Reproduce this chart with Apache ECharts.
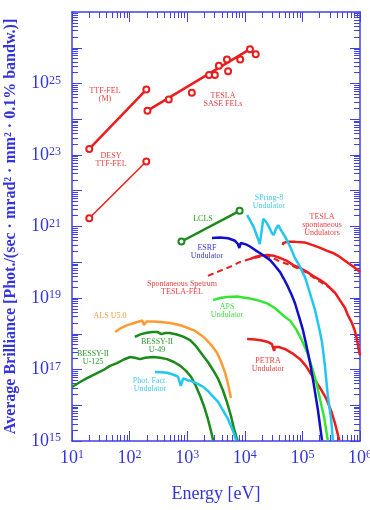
<!DOCTYPE html>
<html><head><meta charset="utf-8">
<script src="https://cdn.jsdelivr.net/npm/echarts@6/dist/echarts.min.js"></script>
<style>html,body{margin:0;padding:0;background:#fff}#c{width:370px;height:510px}</style>
</head><body><div id="c"></div>
<script>
// Values, stored as [log10(energy / eV), log10(average brilliance)]
const ttfFelM = [[1.30,23.17],[2.29,24.83]];
const desyTtfFel = [[1.30,21.23],[2.29,22.82]];
const teslaSaseFit = [[2.31,24.24],[4.09,25.96]];
const teslaSasePoints = [[2.31,24.24],[2.68,24.55],[3.08,24.74],[3.38,25.24],[3.48,25.24],[3.55,25.50],[3.69,25.67],[3.71,25.34],[3.92,25.67],[4.09,25.96],[4.19,25.82]];
const lcls = [[2.90,20.58],[3.91,21.44]];
const spring8 = [[4.04,21.32],[4.09,21.18],[4.16,20.96],[4.21,20.74],[4.26,20.51],[4.29,20.85],[4.32,21.21],[4.37,21.13],[4.42,20.99],[4.47,20.82],[4.50,20.76],[4.54,20.93],[4.58,21.04],[4.63,20.90],[4.70,20.71],[4.79,20.43],[4.87,20.12],[4.96,19.87],[5.05,19.56],[5.13,19.14],[5.22,18.66],[5.29,18.16],[5.34,17.77],[5.39,17.12],[5.44,16.28],[5.50,15.58],[5.53,15.02]];
const esrf = [[3.43,20.68],[3.57,20.69],[3.71,20.67],[3.83,20.60],[3.88,20.51],[3.905,20.40],[3.93,20.54],[4.02,20.50],[4.09,20.44],[4.18,20.34],[4.26,20.26],[4.35,20.16],[4.44,20.06],[4.52,19.91],[4.61,19.73],[4.68,19.53],[4.75,19.31],[4.82,19.06],[4.87,18.86],[4.96,18.38],[5.01,18.10],[5.06,17.74],[5.13,17.21],[5.20,16.56],[5.27,15.86],[5.34,15.02]];
const spontTeslaFel = [[3.36,19.62],[3.57,19.76],[3.74,19.87],[3.92,20.01],[4.09,20.09],[4.26,20.15],[4.39,20.18],[4.52,20.09],[4.63,20.01],[4.79,19.92],[4.91,19.84],[5.05,19.73],[5.18,19.59],[5.34,19.42],[5.48,19.28]];
const teslaSpontLower = [[4.09,20.09],[4.18,20.15],[4.28,20.19],[4.39,20.20],[4.51,20.18],[4.61,20.12],[4.73,20.04],[4.84,19.92],[4.96,19.84],[5.08,19.73],[5.18,19.62],[5.31,19.50],[5.41,19.39],[5.48,19.28],[5.57,19.14],[5.65,18.94],[5.74,18.72],[5.79,18.52],[5.86,18.30],[5.91,18.08],[5.95,17.82],[5.98,17.54],[6.0,17.40]];
const teslaSpontUpper = [[4.66,20.48],[4.67,20.54],[4.73,20.57],[4.87,20.57],[5.05,20.55],[5.18,20.48],[5.31,20.40],[5.43,20.32],[5.53,20.26],[5.65,20.15],[5.77,20.01],[5.88,19.88],[6.0,19.73]];
const aps = [[3.45,18.94],[3.57,19.00],[3.69,19.03],[3.87,19.04],[4.00,19.01],[4.13,18.97],[4.26,18.92],[4.39,18.85],[4.52,18.72],[4.66,18.52],[4.79,18.36],[4.89,18.13],[4.99,17.82],[5.08,17.49],[5.17,17.04],[5.24,16.65],[5.31,16.14],[5.38,15.64],[5.44,15.02]];
const petra = [[4.04,17.85],[4.18,17.84],[4.30,17.81],[4.40,17.77],[4.47,17.71],[4.51,17.52],[4.52,17.63],[4.59,17.63],[4.70,17.57],[4.82,17.46],[4.96,17.29],[5.06,17.10],[5.15,16.87],[5.24,16.65],[5.32,16.45],[5.41,16.20],[5.50,15.84],[5.57,15.47],[5.64,15.02]];
const alsU5 = [[1.75,18.05],[1.85,18.16],[1.96,18.24],[2.08,18.30],[2.22,18.37],[2.25,18.24],[2.29,18.34],[2.41,18.34],[2.53,18.33],[2.70,18.30],[2.88,18.24],[3.01,18.16],[3.14,18.08],[3.26,17.94],[3.34,17.82],[3.43,17.66],[3.52,17.46],[3.59,17.21],[3.66,16.90],[3.71,16.59],[3.76,16.20]];
const bessyU49 = [[2.09,17.91],[2.20,17.99],[2.30,18.03],[2.39,18.05],[2.48,18.05],[2.55,17.99],[2.62,18.02],[2.70,18.02],[2.82,17.98],[2.93,17.92],[3.05,17.82],[3.15,17.66],[3.27,17.40],[3.36,17.21],[3.45,16.98],[3.54,16.73],[3.62,16.42],[3.69,16.09],[3.76,15.70],[3.81,15.36],[3.87,15.02]];
const bessyU125 = [[1.00,16.51],[1.14,16.65],[1.26,16.76],[1.40,16.87],[1.54,16.98],[1.66,17.10],[1.78,17.18],[1.90,17.28],[2.01,17.35],[2.09,17.33],[2.18,17.29],[2.27,17.33],[2.41,17.35],[2.53,17.33],[2.65,17.29],[2.77,17.21],[2.88,17.10],[2.98,16.96],[3.07,16.79],[3.15,16.54],[3.22,16.28],[3.29,15.98],[3.36,15.61],[3.41,15.30],[3.45,15.02]];
const photFact = [[2.44,16.93],[2.55,16.92],[2.65,16.91],[2.75,16.86],[2.84,16.80],[2.89,16.54],[2.93,16.75],[3.01,16.70],[3.10,16.66],[3.19,16.59],[3.27,16.52],[3.36,16.40],[3.45,16.24],[3.54,16.09],[3.62,15.86],[3.69,15.67],[3.76,15.42],[3.81,15.22],[3.85,15.02]];

// Axis ranges and tick labels
const xDecades = [1,2,3,4,5,6];           // 10^1 .. 10^6 eV
const yDecades = [15,16,17,18,19,20,21,22,23,24,25,26,27];
const yLabelDecades = [15,17,19,21,23,25,27];

const pow10 = v => Math.pow(10, v);
const toVal = arr => arr.map(p => [pow10(p[0]), pow10(p[1])]);
const majorOf = ds => ds.map(pow10);
const minorOf = ds => { const out=[]; ds.slice(0,-1).forEach(d => { for (let m=2;m<=9;m++) out.push(m*pow10(d)); }); return out; };

const FONT = '"Liberation Serif", "DejaVu Serif", serif';
const AX = '#4040e6';
const LBL = '#3434dc';
const RED = '#ec1c1c', DKGREEN = '#1a8a1a', LTGREEN = '#33e633', ORANGE = '#ff9a33', CYAN = '#22c6ee', BLUE = '#1010c8';

const richLab = {
  b: {fontSize: 18, fontFamily: FONT, color: LBL, verticalAlign: 'bottom', lineHeight: 18},
  s: {fontSize: 12, fontFamily: FONT, color: LBL, verticalAlign: 'top', lineHeight: 12, padding: [0,0,10,0]}
};
const expFmt = v => '{b|10}{s|' + Math.round(Math.log10(v)) + '}';

function xAxisDef(pos, ticks, len, main) {
  return {
    type: 'log', logBase: 10, min: 10, max: 1e6, position: pos,
    axisLine: {show: main, lineStyle: {color: AX, width: 1.5}},
    axisTick: {show: true, inside: true, length: len, customValues: ticks, lineStyle: {color: AX, width: 1}},
    axisLabel: pos === 'bottom' && main ? {show: true, customValues: majorOf(xDecades), formatter: expFmt, rich: richLab, margin: 8} : {show: false},
    splitLine: {show: false}, minorTick: {show: false}, minorSplitLine: {show: false},
    name: pos === 'bottom' && main ? 'Energy [eV]' : '',
    nameLocation: 'middle', nameGap: 44,
    nameTextStyle: {fontSize: 18, fontFamily: FONT, color: LBL}
  };
}
function yAxisDef(pos, ticks, len, main) {
  return {
    type: 'log', logBase: 10, min: 1e15, max: 1e27, position: pos,
    axisLine: {show: main, lineStyle: {color: AX, width: 1.5}},
    axisTick: {show: true, inside: true, length: len, customValues: ticks, lineStyle: {color: AX, width: 1}},
    axisLabel: pos === 'left' && main ? {show: true, customValues: majorOf(yLabelDecades), formatter: expFmt, rich: richLab, margin: 11} : {show: false},
    splitLine: {show: false}, minorTick: {show: false}, minorSplitLine: {show: false},
    name: pos === 'left' && main ? 'Average Brilliance [Phot./(sec · mrad² · mm² · 0.1% bandw.)]' : '',
    nameLocation: 'middle', nameGap: 53, nameRotate: 90,
    nameTextStyle: {fontSize: 16, fontWeight: 'bold', fontFamily: FONT, color: LBL}
  };
}

function lineS(data, color, width, extra) {
  return Object.assign({
    type: 'line', data: toVal(data), xAxisIndex: 0, yAxisIndex: 0,
    showSymbol: false, symbol: 'none', clip: true, smooth: false,
    lineStyle: {color: color, width: width}, itemStyle: {color: color}
  }, extra || {});
}
const circ = {showSymbol: true, symbol: 'emptyCircle', symbolSize: 6};

function label(x, y, text, color) {
  return {type: 'text', x: x, y: y, silent: true, z: 100,
    style: {text: text, fill: color, fontSize: 8, fontFamily: FONT, lineHeight: 8, align: 'center', verticalAlign: 'middle'}};
}

const chart = echarts.init(document.getElementById('c'), null, {renderer: 'canvas'});
chart.setOption({
  animation: false,
  backgroundColor: '#fff',
  textStyle: {fontFamily: FONT},
  grid: {left: 72, right: 10, top: 12, bottom: 69, containLabel: false, outerBoundsMode: 'none'},
  xAxis: [
    xAxisDef('bottom', majorOf(xDecades), 10, true),
    xAxisDef('top', majorOf(xDecades), 10, true),
    xAxisDef('bottom', minorOf(xDecades), 6, false),
    xAxisDef('top', minorOf(xDecades), 6, false)
  ],
  yAxis: [
    yAxisDef('left', majorOf(yDecades), 10, true),
    yAxisDef('right', majorOf(yDecades), 10, true),
    yAxisDef('left', minorOf(yDecades), 6, false),
    yAxisDef('right', minorOf(yDecades), 6, false)
  ],
  series: [
    lineS(bessyU125, DKGREEN, 2.5),
    lineS(bessyU49, DKGREEN, 2.5),
    lineS(alsU5, ORANGE, 2.5),
    lineS(photFact, CYAN, 2.5),
    lineS(petra, RED, 2.5),
    lineS(aps, LTGREEN, 2.5),
    lineS(teslaSpontUpper, RED, 2.5),
    lineS(spontTeslaFel, RED, 2, {lineStyle: {color: RED, width: 2, type: [6, 4]}}),
    lineS(teslaSpontLower, RED, 2.5),
    lineS(esrf, BLUE, 2.5),
    lineS(spring8, CYAN, 2.5),
    lineS(lcls, DKGREEN, 2.5, circ),
    lineS(ttfFelM, RED, 2.5, circ),
    lineS(desyTtfFel, RED, 1.5, circ),
    lineS(teslaSaseFit, RED, 2.5),
    {type: 'scatter', data: toVal(teslaSasePoints), xAxisIndex: 0, yAxisIndex: 0, z: 5,
     symbol: 'emptyCircle', symbolSize: 6,
     itemStyle: {color: RED, borderColor: RED, borderWidth: 1, opacity: 1}}
  ],
  graphic: [
    label(105, 95, 'TTF-FEL\n(M)', '#e84040'),
    label(111, 160, 'DESY\nTTF-FEL', '#e84040'),
    label(223, 100, 'TESLA\nSASE FELs', '#e84040'),
    label(203, 219, 'LCLS', '#2a9a2a'),
    label(269, 202, 'SPring-8\nUndulator', '#44c8f0'),
    label(322, 224.5, 'TESLA\nspontaneous\nUndulators', '#e84040'),
    label(207, 251.5, 'ESRF\nUndulator', '#3434d0'),
    label(182, 288, 'Spontaneous Spetrum\nTESLA-FEL', '#e84040'),
    label(227, 311, 'APS\nUndulator', '#3ee03e'),
    label(110, 316, 'ALS U5.0', '#f59a3c'),
    label(157, 346, 'BESSY-II\nU-49', '#2a9a2a'),
    label(93, 357.5, 'BESSY-II\nU-125', '#2a9a2a'),
    label(150, 385, 'Phot. Fact.\nUndulator', '#44c8f0'),
    label(268, 365, 'PETRA\nUndulator', '#e84040')
  ]
});
</script>
</body></html>
